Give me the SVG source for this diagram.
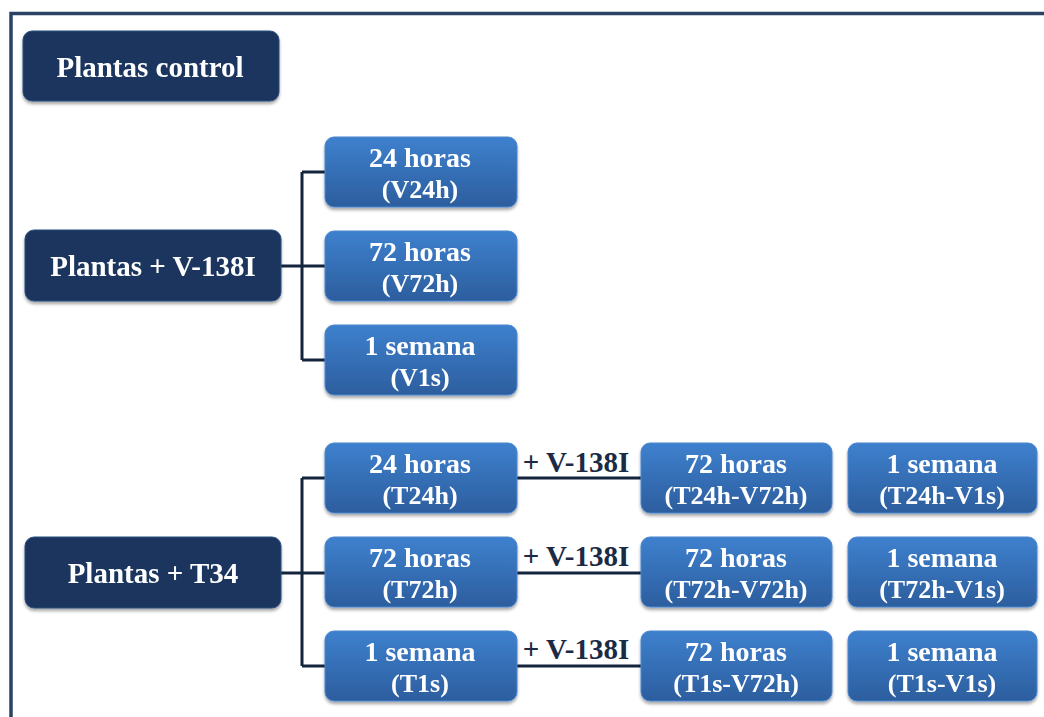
<svg xmlns="http://www.w3.org/2000/svg" width="1044" height="717" viewBox="0 0 1044 717">
<style>
.dark{fill:#1a365e;stroke:#2c4f7f;stroke-width:1}
.blue{fill:url(#bg);stroke:#4a86cf;stroke-width:1}
.t{font-family:"Liberation Serif","Times New Roman",serif;font-weight:bold;font-size:28px;fill:#ffffff;text-anchor:middle}
.td{font-size:29px}
.s{font-size:26px}
.lbl{font-family:"Liberation Serif","Times New Roman",serif;font-weight:bold;font-size:29px;fill:#1b2b45;text-anchor:middle}
.c{fill:none;stroke:#13243d;stroke-width:3}
</style>
<defs>
<linearGradient id="bg" x1="0" y1="0" x2="0" y2="1">
<stop offset="0" stop-color="#3e80ce"/>
<stop offset="1" stop-color="#2c5e9e"/>
</linearGradient>
<filter id="sh" x="-10%" y="-10%" width="120%" height="130%">
<feDropShadow dx="0" dy="2.5" stdDeviation="1.8" flood-color="#000" flood-opacity="0.35"/>
</filter>
</defs>
<rect width="1044" height="717" fill="#ffffff"/>
<path d="M11 717 V13.5 H1044" fill="none" stroke="#2a4264" stroke-width="3.5"/>
<g id="connectors">
<path class="c" d="M281 266 H302 M302 172 V360 M302 172 H325 M302 266 H325 M302 360 H325"/>
<path class="c" d="M281 573 H302 M302 478 V666 M302 478 H325 M302 573 H325 M302 666 H325"/>
<path class="c" d="M517 478 H641 M517 573 H641 M517 666 H641"/>
<text class="lbl" x="576" y="472">+ V-138I</text>
<text class="lbl" x="576" y="566">+ V-138I</text>
<text class="lbl" x="576" y="659">+ V-138I</text>
</g>
<g id="n-control" filter="url(#sh)"><rect class="dark" x="23" y="31" width="256" height="70" rx="9"/><text class="t td" x="150" y="77">Plantas control</text></g>
<g id="n-v138" filter="url(#sh)"><rect class="dark" x="25" y="230" width="256" height="71" rx="9"/><text class="t td" x="153" y="276">Plantas + V-138I</text></g>
<g id="n-t34" filter="url(#sh)"><rect class="dark" x="25" y="537" width="256" height="71" rx="9"/><text class="t td" x="153" y="583">Plantas + T34</text></g>

<g id="n-v24" filter="url(#sh)"><rect class="blue" x="325" y="137" width="192" height="70" rx="9"/><text class="t" x="420" y="167">24 horas</text><text class="t s" x="420" y="198">(V24h)</text></g>
<g id="n-v72" filter="url(#sh)"><rect class="blue" x="325" y="231" width="192" height="70" rx="9"/><text class="t" x="420" y="261">72 horas</text><text class="t s" x="420" y="292">(V72h)</text></g>
<g id="n-v1s" filter="url(#sh)"><rect class="blue" x="325" y="325" width="192" height="70" rx="9"/><text class="t" x="420" y="355">1 semana</text><text class="t s" x="420" y="386">(V1s)</text></g>

<g id="n-t24" filter="url(#sh)"><rect class="blue" x="325" y="443" width="192" height="70" rx="9"/><text class="t" x="420" y="473">24 horas</text><text class="t s" x="420" y="504">(T24h)</text></g>
<g id="n-t72" filter="url(#sh)"><rect class="blue" x="325" y="537" width="192" height="70" rx="9"/><text class="t" x="420" y="567">72 horas</text><text class="t s" x="420" y="598">(T72h)</text></g>
<g id="n-t1s" filter="url(#sh)"><rect class="blue" x="325" y="631" width="192" height="70" rx="9"/><text class="t" x="420" y="661">1 semana</text><text class="t s" x="420" y="692">(T1s)</text></g>

<g id="n-t24v72" filter="url(#sh)"><rect class="blue" x="641" y="443" width="191" height="70" rx="9"/><text class="t" x="736" y="473">72 horas</text><text class="t s" x="736" y="504">(T24h-V72h)</text></g>
<g id="n-t72v72" filter="url(#sh)"><rect class="blue" x="641" y="537" width="191" height="70" rx="9"/><text class="t" x="736" y="567">72 horas</text><text class="t s" x="736" y="598">(T72h-V72h)</text></g>
<g id="n-t1sv72" filter="url(#sh)"><rect class="blue" x="641" y="631" width="191" height="70" rx="9"/><text class="t" x="736" y="661">72 horas</text><text class="t s" x="736" y="692">(T1s-V72h)</text></g>

<g id="n-t24v1s" filter="url(#sh)"><rect class="blue" x="848" y="443" width="189" height="70" rx="9"/><text class="t" x="942" y="473">1 semana</text><text class="t s" x="942" y="504">(T24h-V1s)</text></g>
<g id="n-t72v1s" filter="url(#sh)"><rect class="blue" x="848" y="537" width="189" height="70" rx="9"/><text class="t" x="942" y="567">1 semana</text><text class="t s" x="942" y="598">(T72h-V1s)</text></g>
<g id="n-t1sv1s" filter="url(#sh)"><rect class="blue" x="848" y="631" width="189" height="70" rx="9"/><text class="t" x="942" y="661">1 semana</text><text class="t s" x="942" y="692">(T1s-V1s)</text></g>
</svg>
